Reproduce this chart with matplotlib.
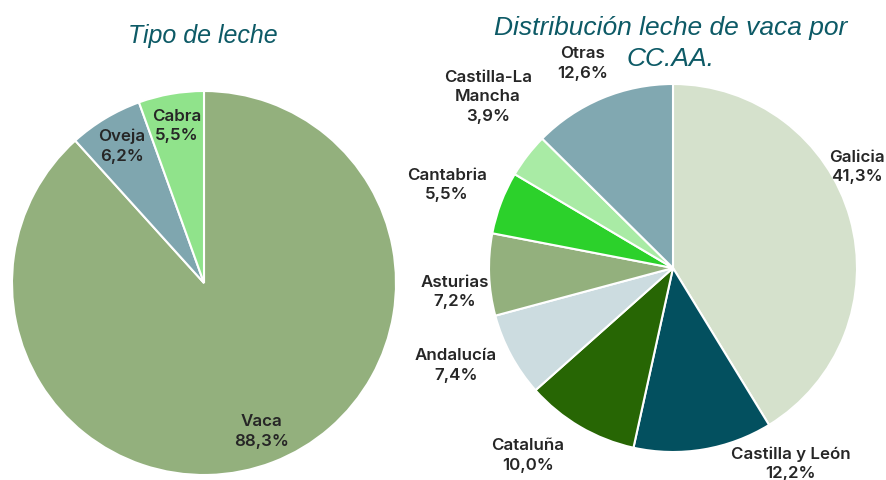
import numpy as np
import matplotlib
matplotlib.use('Agg')
import matplotlib.pyplot as plt

# data
tipo_names = ['Vaca', 'Oveja', 'Cabra']
tipo_values = [88.3, 6.2, 5.5]
tipo_colors = ['#93b07d', '#7fa6af', '#90e38b']

region_names = ['Galicia', 'Castilla y León', 'Cataluña', 'Andalucía',
                'Asturias', 'Cantabria', 'Castilla-La\nMancha', 'Otras']
region_values = [41.3, 12.2, 10.0, 7.4, 7.2, 5.5, 3.9, 12.6]
region_colors = ['#d5e1cc', '#03505f', '#276604', '#ccdce0',
                 '#93b07d', '#2cd12b', '#a9eba5', '#81a8b1']

# label placement for the right pie (pie radius units), Excel style
region_label_pos = [(1.0, 0.55), (0.64, -1.065), (-0.79, -1.02), (-1.18, -0.53),
                    (-1.185, -0.13), (-1.23, 0.45), (-1.005, 0.93), (-0.49, 1.11)]

TITLE_COLOR = '#0d5a66'
TEXT_COLOR = '#262626'
label_font = dict(family=['Inter', 'DejaVu Sans'], size=12.2, weight='semibold',
                  color=TEXT_COLOR, linespacing=1.38)
title_font = dict(family=['Liberation Sans', 'DejaVu Sans'],
                  style='italic', color=TITLE_COLOR)


def fmt(v):
    return f'{v:.1f}'.replace('.', ',') + '%'


W, H = 887, 480
fig = plt.figure(figsize=(W / 100, H / 100), dpi=100)


def px_axes(cx, cy, r):
    # axes box from pixel center / radius (y from top)
    return fig.add_axes([(cx - r) / W, (H - cy - r) / H, 2 * r / W, 2 * r / H])


wedge_style = dict(edgecolor='white', linewidth=1.5)

# left pie
ax1 = px_axes(204, 283, 192)
labels1 = [f'{n}\n{fmt(v)}' for n, v in zip(tipo_names, tipo_values)]
wedges, texts = ax1.pie(tipo_values, colors=tipo_colors, startangle=90,
                        counterclock=False, labels=labels1, labeldistance=0.83,
                        wedgeprops=wedge_style, textprops=label_font)
for t in texts:
    t.set_ha('center')
    t.set_va('center')
    t.set_multialignment('center')
ax1.set_xlim(-1, 1)
ax1.set_ylim(-1, 1)
ax1.set_aspect('equal')
fig.text(203 / W, 1 - 36 / H, 'Tipo de leche', ha='center', va='center',
         size=18, **title_font)

# right pie
ax2 = px_axes(673, 268, 184)
wedges2, _ = ax2.pie(region_values, colors=region_colors, startangle=90,
                     counterclock=False, wedgeprops=wedge_style)
for n, v, (lx, ly) in zip(region_names, region_values, region_label_pos):
    ax2.text(lx, ly, f'{n}\n{fmt(v)}', ha='center', va='center',
             multialignment='center', clip_on=False, **label_font)
ax2.set_xlim(-1, 1)
ax2.set_ylim(-1, 1)
ax2.set_aspect('equal')
fig.text(671 / W, 1 - 28 / H, 'Distribución leche de vaca por',
         ha='center', va='center', size=19, **title_font)
fig.text(671 / W, 1 - 59 / H, 'CC.AA.',
         ha='center', va='center', size=19, **title_font)

fig.savefig('out.png', dpi=100)
